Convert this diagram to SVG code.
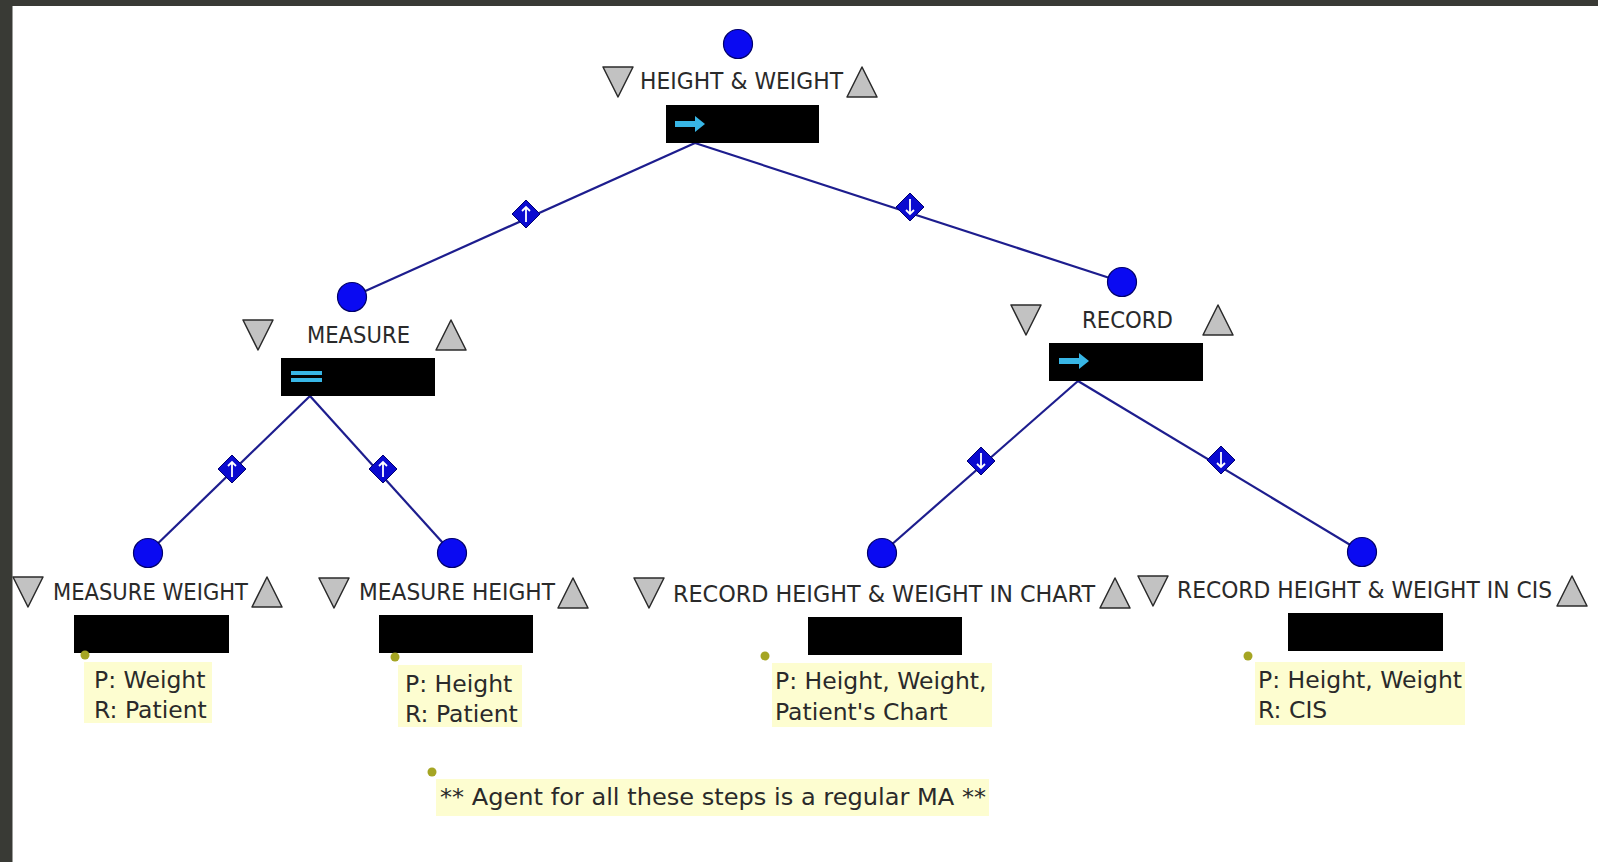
<svg xmlns="http://www.w3.org/2000/svg" xmlns:xlink="http://www.w3.org/1999/xlink" width="1598" height="862" viewBox="0 0 1598 862">
  <defs>
    <style>
      .title { font-family: "DejaVu Sans", "Liberation Sans", sans-serif; font-size: 23px; fill: #2a2a2a; }
      .note { font-family: "DejaVu Sans", "Liberation Sans", sans-serif; font-size: 23.5px; fill: #2a2a2a; }
      .notebg { fill: #fdfdd0; }
      .box { fill: #000; }
      .tri { fill: #c2c2c2; stroke: #2b2b2b; stroke-width: 1.5; stroke-linejoin: round; }
      .ball { fill: #0a0af2; stroke: #00006a; stroke-width: 1.2; }
      .edge { stroke: #1d1d8e; stroke-width: 2.2; fill: none; }
      .dia { fill: #0a0ad0; stroke: #000070; stroke-width: 1; }
      .darr { stroke: #fff; stroke-width: 1.8; fill: none; }
      .pin { fill: #a5a523; }
      .cyan { fill: #38b6e6; }
    </style>
    <polygon id="triDown" class="tri" points="0,0 30,0 15,30"/>
    <polygon id="triUp" class="tri" points="15,0 30,30 0,30"/>
    <g id="diaUp">
      <polygon class="dia" points="0,-14 14,0 0,14 -14,0"/>
      <path class="darr" d="M0,8 V-7 M-4,-3 L0,-7 L4,-3"/>
    </g>
    <g id="diaDown">
      <polygon class="dia" points="0,-14 14,0 0,14 -14,0"/>
      <path class="darr" d="M0,-8 V7 M-4,3 L0,7 L4,3"/>
    </g>
    <path id="seqArrow" class="cyan" d="M0,-3 H20 V-8 L30,0 L20,8 V3 H0 Z"/>
  </defs>

  <!-- canvas and window frame -->
  <rect x="0" y="0" width="1598" height="862" fill="#ffffff"/>
  <rect x="0" y="0" width="1598" height="6" fill="#393a35"/>
  <rect x="0" y="0" width="12.5" height="862" fill="#393a35"/>

  <!-- connectors -->
  <g id="connectors">
    <line class="edge" x1="695" y1="143" x2="352" y2="297"/>
    <line class="edge" x1="695" y1="143" x2="1122" y2="282"/>
    <line class="edge" x1="310" y1="396" x2="148" y2="553"/>
    <line class="edge" x1="310" y1="396" x2="452" y2="553"/>
    <line class="edge" x1="1078" y1="381" x2="882" y2="553"/>
    <line class="edge" x1="1078" y1="381" x2="1362" y2="552"/>
    <use xlink:href="#diaUp" x="526" y="214"/>
    <use xlink:href="#diaDown" x="910" y="207"/>
    <use xlink:href="#diaUp" x="232" y="469"/>
    <use xlink:href="#diaUp" x="383" y="469"/>
    <use xlink:href="#diaDown" x="981" y="461"/>
    <use xlink:href="#diaDown" x="1221" y="460"/>
  </g>

  <!-- root task -->
  <g id="node-height-weight">
    <circle class="ball" cx="738" cy="44" r="14.5"/>
    <use xlink:href="#triDown" x="603" y="67"/>
    <text class="title" x="640" y="89" textLength="203" lengthAdjust="spacingAndGlyphs">HEIGHT &amp; WEIGHT</text>
    <use xlink:href="#triUp" x="847" y="67"/>
    <rect class="box" x="666" y="105" width="153" height="38"/>
    <use xlink:href="#seqArrow" x="675" y="124"/>
  </g>

  <g id="node-measure">
    <circle class="ball" cx="352" cy="297" r="14.5"/>
    <use xlink:href="#triDown" x="243" y="320"/>
    <text class="title" x="307" y="343" textLength="103" lengthAdjust="spacingAndGlyphs">MEASURE</text>
    <use xlink:href="#triUp" x="436" y="320"/>
    <rect class="box" x="281" y="358" width="154" height="38"/>
    <rect class="cyan" x="291" y="371" width="31" height="4"/>
    <rect class="cyan" x="291" y="378" width="31" height="4"/>
  </g>

  <g id="node-record">
    <circle class="ball" cx="1122" cy="282" r="14.5"/>
    <use xlink:href="#triDown" x="1011" y="305"/>
    <text class="title" x="1082" y="328" textLength="91" lengthAdjust="spacingAndGlyphs">RECORD</text>
    <use xlink:href="#triUp" x="1203" y="305"/>
    <rect class="box" x="1049" y="343" width="154" height="38"/>
    <use xlink:href="#seqArrow" x="1059" y="361"/>
  </g>

  <g id="node-measure-weight">
    <circle class="ball" cx="148" cy="553" r="14.5"/>
    <use xlink:href="#triDown" x="13" y="577"/>
    <text class="title" x="53" y="600" textLength="195" lengthAdjust="spacingAndGlyphs">MEASURE WEIGHT</text>
    <use xlink:href="#triUp" x="252" y="577"/>
    <rect class="box" x="74" y="615" width="155" height="38"/>
    <circle class="pin" cx="85" cy="655" r="4.5"/>
    <rect class="notebg" x="84" y="662" width="128" height="61"/>
    <text class="note" x="94" y="688">P: Weight</text>
    <text class="note" x="94" y="718">R: Patient</text>
  </g>

  <g id="node-measure-height">
    <circle class="ball" cx="452" cy="553" r="14.5"/>
    <use xlink:href="#triDown" x="319" y="578"/>
    <text class="title" x="359" y="600" textLength="196" lengthAdjust="spacingAndGlyphs">MEASURE HEIGHT</text>
    <use xlink:href="#triUp" x="558" y="578"/>
    <rect class="box" x="379" y="615" width="154" height="38"/>
    <circle class="pin" cx="395" cy="657" r="4.5"/>
    <rect class="notebg" x="398" y="665" width="124" height="62"/>
    <text class="note" x="405" y="692">P: Height</text>
    <text class="note" x="405" y="722">R: Patient</text>
  </g>

  <g id="node-record-chart">
    <circle class="ball" cx="882" cy="553" r="14.5"/>
    <use xlink:href="#triDown" x="634" y="578"/>
    <text class="title" x="673" y="602" textLength="422" lengthAdjust="spacingAndGlyphs">RECORD HEIGHT &amp; WEIGHT IN CHART</text>
    <use xlink:href="#triUp" x="1100" y="578"/>
    <rect class="box" x="808" y="617" width="154" height="38"/>
    <circle class="pin" cx="765" cy="656" r="4.5"/>
    <rect class="notebg" x="772" y="663" width="220" height="64"/>
    <text class="note" x="775" y="689">P: Height, Weight,</text>
    <text class="note" x="775" y="720">Patient's Chart</text>
  </g>

  <g id="node-record-cis">
    <circle class="ball" cx="1362" cy="552" r="14.5"/>
    <use xlink:href="#triDown" x="1138" y="576"/>
    <text class="title" x="1177" y="598" textLength="375" lengthAdjust="spacingAndGlyphs">RECORD HEIGHT &amp; WEIGHT IN CIS</text>
    <use xlink:href="#triUp" x="1557" y="576"/>
    <rect class="box" x="1288" y="613" width="155" height="38"/>
    <circle class="pin" cx="1248" cy="656" r="4.5"/>
    <rect class="notebg" x="1255" y="662" width="210" height="63"/>
    <text class="note" x="1258" y="688">P: Height, Weight</text>
    <text class="note" x="1258" y="718">R: CIS</text>
  </g>

  <g id="note-agent">
    <circle class="pin" cx="432" cy="772" r="4.5"/>
    <rect class="notebg" x="436" y="779" width="553" height="37"/>
    <text class="note" x="440" y="805" textLength="546" lengthAdjust="spacingAndGlyphs">** Agent for all these steps is a regular MA **</text>
  </g>
</svg>
